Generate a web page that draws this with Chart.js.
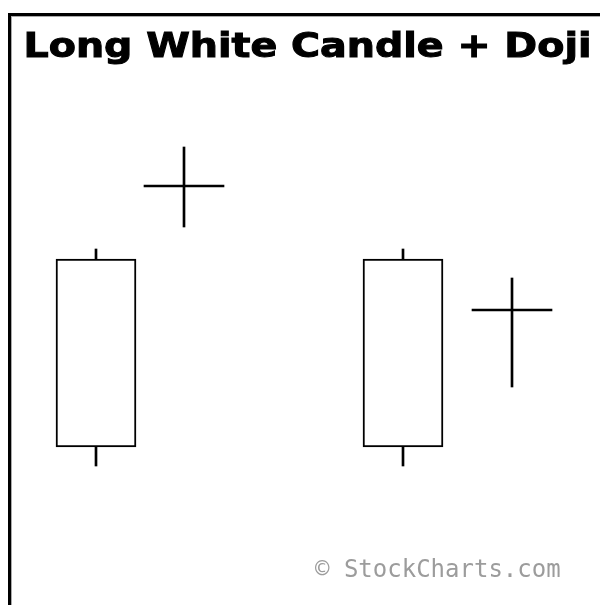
<!DOCTYPE html>
<html lang="en">
<head>
<meta charset="UTF-8">
<script src="https://cdn.jsdelivr.net/npm/chart.js"></script>
<title>Long White Candle + Doji</title>
<style>
    html, body { margin: 0; padding: 0; background: #fff; overflow: hidden; }
    .moldura {
        position: absolute; left: 8px; top: 13px; width: 600px; height: 600px;
        border-left: 3px solid #000; border-top: 3px solid #000;
        box-shadow: inset 1px 1px 0 #aaa;
    }
    #grafico { position: absolute; left: 0; top: 0; }
</style>
</head>
<body>
<div class="moldura"></div>
<canvas id="grafico" width="600" height="605"></canvas>
<script>
    // sessions, left to right (x in arbitrary session units)
    var sessoes = ['Long white candle', 'Doji', 'Long white candle', 'Doji'];
    var posicao = [9.6, 18.4, 40.3, 51.2];
    var abertura = [15.8, 41.9, 15.8, 29.5];
    var fechamento = [34.6, 41.9, 34.6, 29.5];
    var maxima = [35.6, 45.8, 35.6, 32.7];
    var minima = [13.9, 37.8, 13.9, 21.8];

    var titulo = 'Long White Candle + Doji';
    var creditos = '\u00A9 StockCharts.com';

    var corpos = [], pavios = [], cruzes = [];
    for (var i = 0; i < sessoes.length; i++) {
        pavios.push({ x: posicao[i], y: [minima[i], maxima[i]] });
        if (abertura[i] == fechamento[i]) {
            // doji: open and close at the same level, just a dash
            cruzes.push({ x: posicao[i], y: [abertura[i] - 0.1, fechamento[i] + 0.1] });
            corpos.push({ x: posicao[i], y: null });
        } else {
            corpos.push({ x: posicao[i], y: [abertura[i], fechamento[i]] });
            cruzes.push({ x: posicao[i], y: null });
        }
    }

    var textos = {
        id: 'textos',
        afterDraw: function (chart) {
            var ctx = chart.ctx;
            ctx.save();
            ctx.fillStyle = '#000';
            ctx.strokeStyle = '#000';
            ctx.lineWidth = 1;
            ctx.textBaseline = 'alphabetic';
            ctx.textAlign = 'left';
            ctx.font = 'bold 33px "DejaVu Sans"';
            // stretch the title so it spans the same width as the original
            var largura = ctx.measureText(titulo).width;
            var escala = 568 / largura;
            ctx.translate(23.5, 57);
            ctx.scale(escala, 1);
            ctx.fillText(titulo, 0, 0);
            ctx.strokeText(titulo, 0, 0);
            ctx.restore();

            ctx.save();
            ctx.fillStyle = '#9c9c9c';
            ctx.textBaseline = 'alphabetic';
            ctx.font = '24px "DejaVu Sans Mono"';
            ctx.fillText(creditos, 315, 577);
            ctx.restore();
        }
    };

    new Chart(document.getElementById('grafico'), {
        type: 'bar',
        data: {
            datasets: [
                {
                    label: 'body',
                    data: corpos,
                    order: 0,
                    grouped: false,
                    barThickness: 80,
                    backgroundColor: '#fff',
                    borderColor: '#000',
                    borderWidth: 2,
                    borderSkipped: false
                },
                {
                    label: 'doji',
                    data: cruzes,
                    order: 1,
                    grouped: false,
                    barThickness: 80,
                    backgroundColor: '#000',
                    borderWidth: 0
                },
                {
                    label: 'wick',
                    data: pavios,
                    order: 2,
                    grouped: false,
                    barThickness: 2,
                    backgroundColor: '#000',
                    borderWidth: 0
                }
            ]
        },
        options: {
            responsive: false,
            animation: false,
            devicePixelRatio: 1,
            layout: { padding: 0 },
            plugins: {
                legend: { display: false },
                tooltip: { enabled: false },
                title: { display: false }
            },
            scales: {
                x: { type: 'linear', min: 0, max: 60, offset: false, display: false },
                y: { type: 'linear', min: 0, max: 60.5, display: false }
            }
        },
        plugins: [textos]
    });
</script>
</body>
</html>
